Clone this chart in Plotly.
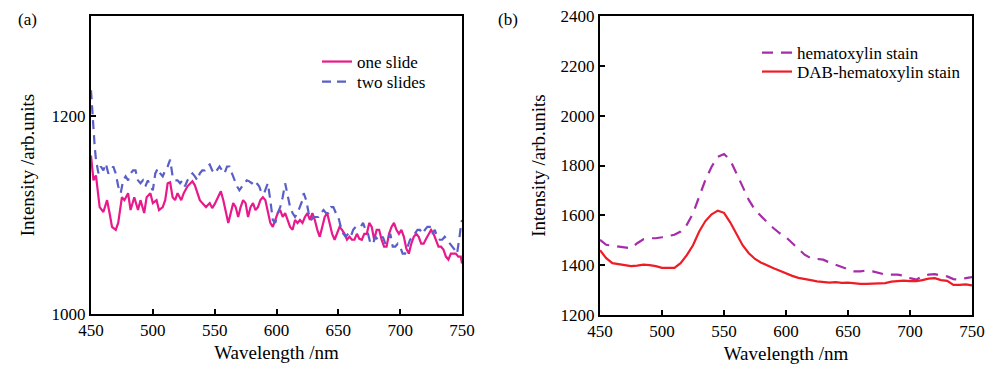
import plotly.graph_objects as go

# ---- Panel (a) data ----
wl_one = [450, 452, 454, 457, 460, 463, 465, 467, 470, 472, 475, 477, 480, 482, 485, 488, 490, 493, 495, 498,
          500, 503, 505, 508, 510, 512, 514, 516, 518, 520, 523, 525, 528, 530, 532, 534, 536, 538, 540, 543,
          546, 548, 550, 553, 555, 557, 559, 561, 563, 565, 567, 569, 571, 573, 575, 577, 579, 581, 583, 585,
          587, 589, 591, 593, 595, 597, 599, 601, 603, 605, 607, 609, 611, 613, 615, 617, 619, 621, 623, 625,
          627, 629, 631, 633, 635, 637, 639, 641, 643, 645, 647, 649, 651, 653, 655, 657, 659, 661, 663, 665,
          667, 669, 671, 673, 675, 677, 679, 681, 683, 685, 687, 689, 691, 693, 695, 697, 699, 701, 703, 705,
          707, 709, 711, 713, 715, 717, 719, 721, 723, 725, 727, 729, 731, 733, 735, 737, 739, 741, 743, 745,
          747, 749, 750]
int_one = [1160, 1135, 1140, 1108, 1103, 1115, 1102, 1088, 1085, 1092, 1118, 1115, 1122, 1105, 1118, 1105, 1115, 1102, 1118, 1122,
           1112, 1115, 1105, 1108, 1115, 1132, 1133, 1118, 1115, 1122, 1115, 1122, 1129, 1132, 1134, 1130, 1122, 1115, 1112, 1108,
           1112, 1107, 1111, 1118, 1124, 1115, 1102, 1092, 1102, 1112, 1108, 1098, 1108, 1115, 1112, 1098, 1108, 1112, 1105, 1108,
           1115, 1118, 1115, 1105, 1092, 1088, 1095, 1102, 1105, 1098, 1102, 1094, 1088, 1085, 1095, 1092, 1095, 1092, 1098, 1102,
           1095, 1102, 1095, 1085, 1078, 1088, 1098, 1102, 1092, 1081, 1075, 1081, 1088, 1085, 1081, 1075, 1078, 1075, 1075, 1081,
           1076, 1075, 1081, 1081, 1092, 1088, 1075, 1085, 1085, 1075, 1068, 1068, 1081, 1088, 1092, 1085, 1081, 1085, 1078, 1066,
           1061, 1071, 1078, 1081, 1078, 1071, 1071, 1076, 1081, 1085, 1081, 1075, 1068, 1068, 1065, 1058, 1055, 1061, 1061, 1061,
           1058, 1058, 1051]

wl_two = [450, 451, 452, 453, 454, 456, 458, 460, 462, 464, 466, 468, 470, 472, 474, 476, 478, 480, 482, 484,
          486, 488, 490, 492, 494, 496, 498, 500, 502, 504, 506, 508, 510, 512, 514, 516, 518, 520, 522, 524,
          526, 528, 530, 532, 534, 536, 538, 540, 542, 544, 546, 548, 550, 552, 554, 556, 558, 560, 562, 564,
          566, 568, 570, 572, 574, 576, 578, 580, 582, 584, 586, 588, 590, 592, 593, 595, 597, 599, 601, 603,
          605, 607, 609, 611, 613, 615, 617, 619, 621, 622, 624, 626, 628, 630, 632, 634, 636, 638, 640, 642,
          644, 646, 648, 650, 652, 654, 656, 658, 660, 662, 664, 666, 668, 670, 672, 674, 676, 678, 680, 682,
          684, 686, 688, 690, 692, 694, 696, 698, 700, 702, 704, 706, 708, 710, 712, 714, 716, 718, 720, 722,
          724, 726, 728, 730, 732, 734, 736, 738, 740, 742, 744, 746, 747, 748, 749, 750]
int_two = [1226, 1206, 1182, 1169, 1156, 1142, 1149, 1145, 1152, 1142, 1145, 1149, 1142, 1129, 1122, 1135, 1139, 1135, 1142, 1145,
           1145, 1135, 1132, 1135, 1129, 1135, 1129, 1125, 1142, 1147, 1142, 1139, 1145, 1149, 1156, 1139, 1135, 1135, 1132, 1135,
           1129, 1135, 1139, 1142, 1139, 1135, 1142, 1145, 1145, 1149, 1151, 1145, 1142, 1145, 1149, 1145, 1142, 1149, 1149, 1142,
           1135, 1129, 1125, 1129, 1132, 1135, 1134, 1132, 1135, 1132, 1129, 1122, 1122, 1129, 1132, 1115, 1095, 1092, 1102, 1108,
           1118, 1132, 1118, 1108, 1102, 1098, 1102, 1108, 1115, 1122, 1115, 1102, 1095, 1098, 1098, 1098, 1102, 1105, 1102, 1102,
           1108, 1108, 1102, 1098, 1088, 1081, 1078, 1081, 1078, 1085, 1088, 1088, 1088, 1092, 1085, 1081, 1071, 1071, 1078, 1075,
           1075, 1078, 1071, 1075, 1081, 1068, 1068, 1071, 1068, 1061, 1061, 1068, 1075, 1078, 1081, 1085, 1085, 1081, 1085, 1088,
           1088, 1081, 1085, 1078, 1075, 1075, 1078, 1075, 1071, 1068, 1065, 1061, 1068, 1078, 1088, 1095]

# ---- Panel (b) data ----
wl_b = [450, 455, 460, 465, 470, 475, 480, 485, 490, 495, 500, 505, 510, 515, 520, 525, 530, 535, 540, 545,
        550, 555, 560, 565, 570, 575, 580, 585, 590, 595, 600, 605, 610, 615, 620, 625, 630, 635, 640, 645,
        650, 655, 660, 665, 670, 675, 680, 685, 690, 695, 700, 705, 710, 715, 720, 725, 730, 735, 740, 745, 750]
hema = [1502, 1482, 1478, 1475, 1472, 1468, 1488, 1504, 1508, 1508, 1512, 1518, 1522, 1535, 1562, 1608, 1675, 1742, 1795, 1835,
        1846, 1822, 1769, 1715, 1662, 1622, 1595, 1571, 1548, 1528, 1512, 1488, 1462, 1442, 1428, 1424, 1422, 1411, 1402, 1395,
        1384, 1375, 1375, 1379, 1375, 1368, 1362, 1362, 1362, 1358, 1348, 1342, 1355, 1362, 1364, 1358, 1355, 1344, 1342, 1348, 1352]
dab = [1460, 1428, 1408, 1404, 1401, 1396, 1398, 1402, 1400, 1396, 1389, 1388, 1389, 1408, 1440, 1480, 1535, 1577, 1604, 1619,
       1610, 1572, 1525, 1480, 1448, 1425, 1410, 1398, 1388, 1378, 1367, 1357, 1349, 1343, 1340, 1335, 1331, 1330, 1332, 1329,
       1330, 1327, 1325, 1325, 1325, 1325, 1328, 1334, 1337, 1338, 1336, 1336, 1340, 1346, 1348, 1340, 1337, 1321, 1321, 1323, 1319]

x_ticks = [450, 500, 550, 600, 650, 700, 750]
ya_ticks = [1000, 1200]
yb_ticks = [1200, 1400, 1600, 1800, 2000, 2200, 2400]

FONT = "Liberation Serif"
W, H = 1000, 369

fig = go.Figure()
fig.add_trace(go.Scatter(x=wl_one, y=int_one, mode="lines", name="one slide",
                         line=dict(color="#E8198B", width=2.2), xaxis="x", yaxis="y", legend="legend"))
fig.add_trace(go.Scatter(x=wl_two, y=int_two, mode="lines", name="two slides",
                         line=dict(color="#5A5FC8", width=2.2, dash="9px,6px"), xaxis="x", yaxis="y", legend="legend2"))
fig.add_trace(go.Scatter(x=wl_b, y=hema, mode="lines", name="hematoxylin stain",
                         line=dict(color="#A62CAA", width=2.2, dash="11px,8px"), xaxis="x2", yaxis="y2", legend="legend3"))
fig.add_trace(go.Scatter(x=wl_b, y=dab, mode="lines", name="DAB-hematoxylin stain",
                         line=dict(color="#EE1C25", width=2.2), xaxis="x2", yaxis="y2", legend="legend4"))


def px_x(p):
    return p / W


def px_y(p):
    return 1 - p / H


axis_common = dict(showline=True, linecolor="black", linewidth=2, mirror=True,
                   ticks="inside", ticklen=5, tickwidth=2, tickcolor="black",
                   showgrid=False, zeroline=False, automargin=False,
                   tickfont=dict(family=FONT, size=17, color="black"))

TITLE_FONT = dict(family=FONT, size=19, color="black")


def leg(xp, yp):
    return dict(x=px_x(xp), y=px_y(yp), xanchor="left", yanchor="top", bgcolor="rgba(0,0,0,0)",
                font=dict(family=FONT, size=17, color="black"), tracegroupgap=0, itemwidth=30)


fig.update_layout(
    width=W, height=H,
    showlegend=True,
    margin=dict(l=0, r=0, t=0, b=0, autoexpand=False),
    paper_bgcolor="white", plot_bgcolor="white",
    font=dict(family=FONT, size=16, color="black"),
    xaxis=dict(domain=[px_x(91), px_x(462)], range=[450, 750], tickvals=x_ticks, anchor="y",
               title=dict(text="Wavelength /nm", font=TITLE_FONT, standoff=6), **axis_common),
    yaxis=dict(domain=[px_y(314), px_y(16)], range=[1000, 1301], tickvals=ya_ticks, anchor="x",
               title=dict(text="Intensity /arb.units", font=TITLE_FONT, standoff=12), **axis_common),
    xaxis2=dict(domain=[px_x(600), px_x(972)], range=[450, 750], tickvals=x_ticks, anchor="y2",
                title=dict(text="Wavelength /nm", font=TITLE_FONT, standoff=6), **axis_common),
    yaxis2=dict(domain=[px_y(315), px_y(16)], range=[1200, 2400], tickvals=yb_ticks, anchor="x2",
                title=dict(text="Intensity /arb.units", font=TITLE_FONT, standoff=10), **axis_common),
    legend=leg(317, 44),
    legend2=leg(317, 64),
    legend3=leg(757, 35),
    legend4=leg(757, 54),
    annotations=[
        dict(text="(a)", x=px_x(16), y=px_y(20), xref="paper", yref="paper", xanchor="left", yanchor="middle",
             showarrow=False, font=dict(family=FONT, size=17)),
        dict(text="(b)", x=px_x(496), y=px_y(20), xref="paper", yref="paper", xanchor="left", yanchor="middle",
             showarrow=False, font=dict(family=FONT, size=17)),
    ],
)

fig.write_html("out.html", config={"displayModeBar": False},
               post_script="document.body.style.margin='0';")
